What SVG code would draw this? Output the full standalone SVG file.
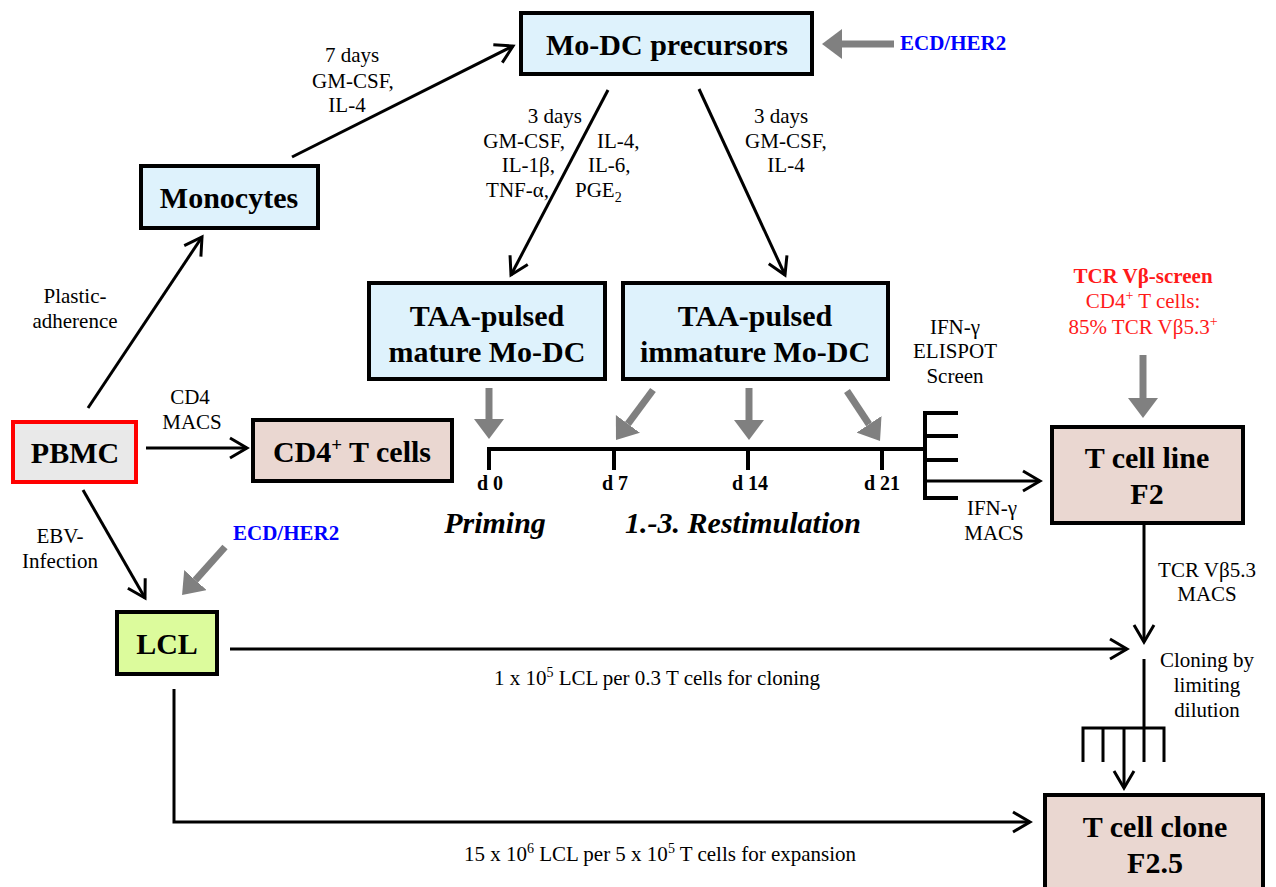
<svg xmlns="http://www.w3.org/2000/svg" width="1276" height="887" viewBox="0 0 1276 887">
  <style>
    .box { stroke: #000; stroke-width: 4; }
    .blue { fill: #def2fc; }
    .pink { fill: #ead7d1; }
    .green { fill: #dcfb9c; }
    .grey { fill: #e9e9e9; }
    .bt { font-family: "Liberation Serif", "Times New Roman", serif; font-weight: bold; font-size: 30px; text-anchor: middle; fill: #000; }
    .lbl { font-family: "Liberation Serif", "Times New Roman", serif; font-size: 21px; fill: #000; }
    .c { text-anchor: middle; }
    .e { text-anchor: end; }
    .day { font-family: "Liberation Serif", "Times New Roman", serif; font-weight: bold; font-size: 20px; text-anchor: middle; }
    .phase { font-family: "Liberation Serif", "Times New Roman", serif; font-weight: bold; font-style: italic; font-size: 30px; text-anchor: middle; }
    .ag { font-family: "Liberation Serif", "Times New Roman", serif; font-weight: bold; font-size: 21px; fill: #0000ff; }
    .red { fill: #ff1a1a; }
    .ln { stroke: #000; stroke-width: 3; fill: none; }
    .thick { stroke: #000; stroke-width: 4; fill: none; }
    .gr { stroke: #808080; stroke-width: 7; fill: none; }
  </style>
  <defs>
    <marker id="open" markerUnits="userSpaceOnUse" markerWidth="24" markerHeight="26" refX="19" refY="12" orient="auto">
      <path d="M2,2 L19,12 L2,22" fill="none" stroke="#000" stroke-width="3"/>
    </marker>
    <marker id="solid" markerUnits="userSpaceOnUse" markerWidth="22" markerHeight="30" refX="0" refY="15" orient="auto">
      <path d="M0,0 L20,15 L0,30 Z" fill="#808080"/>
    </marker>
  </defs>

  <!-- connectors -->
  <g id="connectors">
    <line class="ln" x1="292" y1="157" x2="513" y2="46" marker-end="url(#open)"/>
    <line class="ln" x1="88" y1="408" x2="202" y2="237" marker-end="url(#open)"/>
    <line class="ln" x1="146" y1="448" x2="247" y2="448" marker-end="url(#open)"/>
    <line class="ln" x1="83" y1="490" x2="145" y2="598" marker-end="url(#open)"/>
    <line class="ln" x1="608" y1="90" x2="511" y2="275" marker-end="url(#open)"/>
    <line class="ln" x1="699" y1="89" x2="785" y2="275" marker-end="url(#open)"/>

    <!-- antigen feeding arrows -->
    <line class="gr" x1="894" y1="44" x2="842" y2="44" marker-end="url(#solid)"/>
    <line class="gr" x1="225" y1="547" x2="195.4" y2="580.1" marker-end="url(#solid)"/>
    <line class="gr" x1="489" y1="388" x2="489" y2="419" marker-end="url(#solid)"/>
    <line class="gr" x1="653" y1="390" x2="627.9" y2="423.9" marker-end="url(#solid)"/>
    <line class="gr" x1="749" y1="388" x2="749" y2="420" marker-end="url(#solid)"/>
    <line class="gr" x1="847" y1="391" x2="869" y2="424.3" marker-end="url(#solid)"/>
    <line class="gr" x1="1143" y1="355" x2="1143" y2="398" marker-end="url(#solid)"/>

    <!-- stimulation timeline -->
    <line class="thick" x1="487" y1="449" x2="925" y2="449"/>
    <line class="thick" x1="489" y1="449" x2="489" y2="470"/>
    <line class="thick" x1="614" y1="449" x2="614" y2="470"/>
    <line class="thick" x1="748" y1="449" x2="748" y2="470"/>
    <line class="thick" x1="882" y1="449" x2="882" y2="470"/>

    <!-- screening fork -->
    <path class="thick" d="M958,413 H925 V498 H958 M925,436 H958 M925,460 H958"/>
    <line class="ln" x1="925" y1="481" x2="1040" y2="481" marker-end="url(#open)"/>

    <!-- T cell line to cloning -->
    <line class="ln" x1="1144" y1="523" x2="1144" y2="642" marker-end="url(#open)"/>
    <line class="ln" x1="230" y1="649" x2="1127" y2="649" marker-end="url(#open)"/>
    <line class="ln" x1="1144" y1="659" x2="1144" y2="728"/>
    <path class="ln" d="M1083,762 V728 H1164 V762 M1103,728 V762 M1144,728 V762"/>
    <line class="ln" x1="1124" y1="728" x2="1124" y2="788" marker-end="url(#open)"/>

    <!-- LCL to clone expansion -->
    <polyline class="ln" points="174,689 174,822 1030,822" marker-end="url(#open)"/>
  </g>

  <!-- nodes -->
  <g id="mo-dc-precursors">
    <rect class="box blue" x="521" y="13" width="291" height="61"/>
    <text class="bt" x="667" y="55">Mo-DC precursors</text>
  </g>
  <g id="monocytes">
    <rect class="box blue" x="141" y="166" width="177" height="62"/>
    <text class="bt" x="229" y="208">Monocytes</text>
  </g>
  <g id="pbmc">
    <rect x="13" y="422" width="123" height="60" fill="#e9e9e9" stroke="#ff0000" stroke-width="4"/>
    <text class="bt" x="75" y="463">PBMC</text>
  </g>
  <g id="cd4-t-cells">
    <rect class="box pink" x="253" y="420" width="199" height="61"/>
    <text class="bt" x="352" y="462">CD4<tspan font-size="19" dy="-11">+</tspan><tspan dy="11"> T cells</tspan></text>
  </g>
  <g id="lcl">
    <rect class="box green" x="117" y="612" width="100" height="62"/>
    <text class="bt" x="167" y="654">LCL</text>
  </g>
  <g id="mature-mo-dc">
    <rect class="box blue" x="369" y="283" width="236" height="96"/>
    <text class="bt" x="487" y="326">TAA-pulsed</text>
    <text class="bt" x="487" y="362">mature Mo-DC</text>
  </g>
  <g id="immature-mo-dc">
    <rect class="box blue" x="623" y="283" width="265" height="96"/>
    <text class="bt" x="755" y="326">TAA-pulsed</text>
    <text class="bt" x="755" y="362">immature Mo-DC</text>
  </g>
  <g id="t-cell-line">
    <rect class="box pink" x="1052" y="427" width="191" height="96"/>
    <text class="bt" x="1147" y="468">T cell line</text>
    <text class="bt" x="1147" y="504">F2</text>
  </g>
  <g id="t-cell-clone">
    <rect class="box pink" x="1045" y="795" width="218" height="110"/>
    <text class="bt" x="1155" y="837">T cell clone</text>
    <text class="bt" x="1155" y="873">F2.5</text>
  </g>

  <!-- labels -->
  <g id="labels">
    <text class="lbl c" x="352" y="62">7 days</text>
    <text class="lbl c" x="353" y="88">GM-CSF,</text>
    <text class="lbl c" x="347" y="112">IL-4</text>

    <text class="lbl e" x="582" y="123">3 days</text>
    <text class="lbl e" x="565" y="148">GM-CSF,</text>
    <text class="lbl e" x="555" y="172">IL-1β,</text>
    <text class="lbl e" x="549" y="197">TNF-α,</text>
    <text class="lbl" x="597" y="148">IL-4,</text>
    <text class="lbl" x="588" y="172">IL-6,</text>
    <text class="lbl" x="575" y="197">PGE<tspan font-size="14" dy="5">2</tspan></text>

    <text class="lbl c" x="781" y="123">3 days</text>
    <text class="lbl c" x="786" y="148">GM-CSF,</text>
    <text class="lbl c" x="786" y="172">IL-4</text>

    <text class="ag" x="900" y="50">ECD/HER2</text>
    <text class="ag" x="233" y="540">ECD/HER2</text>

    <text class="lbl c" x="75" y="303">Plastic-</text>
    <text class="lbl c" x="75" y="328">adherence</text>
    <text class="lbl c" x="190" y="404">CD4</text>
    <text class="lbl c" x="192" y="429">MACS</text>
    <text class="lbl c" x="60" y="543">EBV-</text>
    <text class="lbl c" x="60" y="568">Infection</text>

    <text class="day" x="490" y="490">d 0</text>
    <text class="day" x="615" y="490">d 7</text>
    <text class="day" x="750" y="490">d 14</text>
    <text class="day" x="882" y="490">d 21</text>
    <text class="phase" x="495" y="533">Priming</text>
    <text class="phase" x="743" y="533">1.-3. Restimulation</text>

    <text class="lbl c" x="955" y="334">IFN-γ</text>
    <text class="lbl c" x="955" y="358">ELISPOT</text>
    <text class="lbl c" x="955" y="383">Screen</text>
    <text class="lbl c" x="992" y="515">IFN-γ</text>
    <text class="lbl c" x="994" y="540">MACS</text>

    <text class="lbl c red" x="1143" y="283" font-weight="bold">TCR Vβ-screen</text>
    <text class="lbl c red" x="1143" y="308">CD4<tspan font-size="14" dy="-8">+</tspan><tspan dy="8"> T cells:</tspan></text>
    <text class="lbl c red" x="1143" y="334">85% TCR Vβ5.3<tspan font-size="14" dy="-8">+</tspan></text>

    <text class="lbl c" x="1207" y="577">TCR Vβ5.3</text>
    <text class="lbl c" x="1207" y="601">MACS</text>
    <text class="lbl c" x="1207" y="667">Cloning by</text>
    <text class="lbl c" x="1207" y="692">limiting</text>
    <text class="lbl c" x="1207" y="717">dilution</text>

    <text class="lbl c" x="657" y="685">1 x 10<tspan font-size="14" dy="-8">5</tspan><tspan dy="8"> LCL per 0.3 T cells for cloning</tspan></text>
    <text class="lbl c" x="660" y="861">15 x 10<tspan font-size="14" dy="-8">6</tspan><tspan dy="8"> LCL per 5 x 10</tspan><tspan font-size="14" dy="-8">5</tspan><tspan dy="8"> T cells for expansion</tspan></text>
  </g>
</svg>
